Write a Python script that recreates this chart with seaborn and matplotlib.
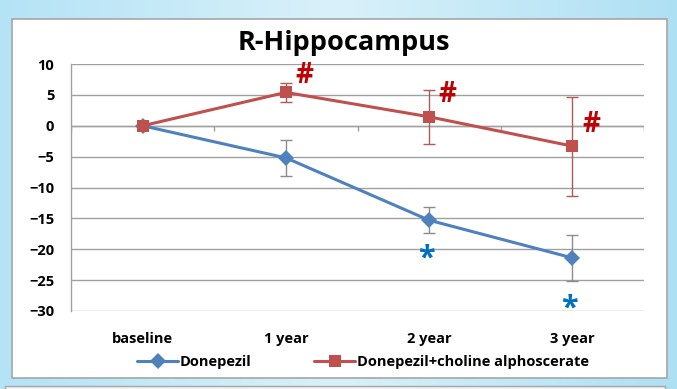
import numpy as np
import pandas as pd
import matplotlib
matplotlib.use("Agg")
import matplotlib.pyplot as plt
import seaborn as sns
from matplotlib.patches import Rectangle

# --- data ---
categories = ["baseline", "1 year", "2 year", "3 year"]
donepezil = [0.0, -5.2, -15.3, -21.4]
donepezil_err = [0.0, 2.9, 2.1, 3.75]
combo = [0.0, 5.4, 1.45, -3.3]
combo_err = [0.0, 1.6, 4.4, 8.0]
series_names = ["Donepezil", "Donepezil+choline alphoscerate"]

# significance marks: (category index, y)
hash_pos = [(1, 8.1), (2, 5.0), (3, 0.2)]
star_pos = [(2, -20.4), (3, -28.5)]

blue = "#4f81bd"
red = "#c0504d"

sns.set_style("white")
plt.rcParams["font.family"] = ["Open Sans", "DejaVu Sans"]
plt.rcParams["text.color"] = "black"
plt.rcParams["xtick.color"] = "black"
plt.rcParams["ytick.color"] = "black"

df = pd.DataFrame({
    "x": list(range(len(categories))) * 2,
    "y": donepezil + combo,
    "group": [series_names[0]] * len(categories) + [series_names[1]] * len(categories),
})

W, H = 677, 389
fig = plt.figure(figsize=(W / 100, H / 100), dpi=100)

# slide background + chart box
bg = fig.add_axes([0, 0, 1, 1], zorder=-10)
grad = np.linspace(0, 1, 256).reshape(1, -1)
bg.imshow(grad, aspect="auto", cmap=matplotlib.colors.LinearSegmentedColormap.from_list(
    "bgc", ["#b5e3f6", "#d9f1fa", "#aee0f4"]), extent=[0, 1, 0, 1])
bg.set_xlim(0, 1)
bg.set_ylim(0, 1)
bg.axis("off")
bg.add_patch(Rectangle((12 / W, 1 - 378 / H), (667 - 12) / W, (378 - 19) / H,
                       facecolor="white", edgecolor="#a6a6a6", lw=1.2))
bg.add_patch(Rectangle((5 / W, 0 - 0.01), (665 - 5) / W, (H - 386) / H + 0.01,
                       facecolor="#f2f2f2", edgecolor="#a6a6a6", lw=1.0))

ax = fig.add_axes([71 / W, 1 - 311 / H, (644 - 71) / W, (311 - 64) / H])
ax.patch.set_alpha(0)

# gridlines
ax.set_ylim(-30, 10)
ax.set_yticks(np.arange(-30, 11, 5))
ax.yaxis.grid(True, color="#a0a0a0", lw=1.0)
ax.set_axisbelow(True)

# x axis crosses at 0 with boundary tick marks
n = len(categories)
ax.set_xlim(-0.5, n - 0.5)
ax.axhline(0, color="#a0a0a0", lw=1.0, zorder=1)
ax.vlines(np.arange(n + 1) - 0.5, -0.8, 0, color="#a0a0a0", lw=1.0, zorder=1)

# error bars
ax.errorbar(range(n), donepezil, yerr=donepezil_err, fmt="none", ecolor="#8c8c8c",
            elinewidth=1.0, capsize=4, capthick=1.0, zorder=3)
ax.errorbar(range(n), combo, yerr=combo_err, fmt="none", ecolor="#b05a58",
            elinewidth=1.0, capsize=4, capthick=1.0, zorder=3)

sns.lineplot(data=df, x="x", y="y", hue="group", style="group",
             palette={series_names[0]: blue, series_names[1]: red},
             markers={series_names[0]: "D", series_names[1]: "s"},
             dashes=False, lw=2.2, markersize=8, markeredgewidth=0,
             ax=ax, legend=True, zorder=4)

for (i, yv) in hash_pos:
    ax.text(i + 0.13, yv, "#", color="#c00000", fontsize=20, fontweight="bold",
            ha="center", va="center", zorder=5)
for (i, yv) in star_pos:
    ax.text(i - 0.02, yv - 1.1, "*", color="#0070c0", fontsize=22, fontweight="bold",
            ha="center", va="center", zorder=5)

# spines
for s in ["top", "right", "bottom"]:
    ax.spines[s].set_visible(False)
ax.spines["left"].set_color("#a0a0a0")
ax.spines["left"].set_linewidth(1.0)

ax.set_xticks(range(n))
ax.set_xticklabels(categories, fontsize=10.5, fontweight="bold")
ax.tick_params(axis="x", length=0, pad=15)
ax.tick_params(axis="y", length=3.6, width=1.0, color="#a0a0a0", labelcolor="black",
               pad=8.5, labelsize=10.5)
for t in ax.get_yticklabels():
    t.set_fontweight("bold")
ax.set_xlabel("")
ax.set_ylabel("")

# legend below the plot
handles, labels = ax.get_legend_handles_labels()
ax.get_legend().remove()
fig.legend(handles, labels, loc="center", bbox_to_anchor=(363 / W, 1 - 362 / H),
           ncol=2, frameon=False, handlelength=2.8, handletextpad=0.1,
           columnspacing=4.3, prop={"size": 10.5, "weight": "bold"})

fig.text(344 / W, 1 - 50.5 / H, "R-Hippocampus", fontsize=19.5, fontweight="bold",
         ha="center", va="baseline", color="black")

fig.savefig("out.png", dpi=100)
